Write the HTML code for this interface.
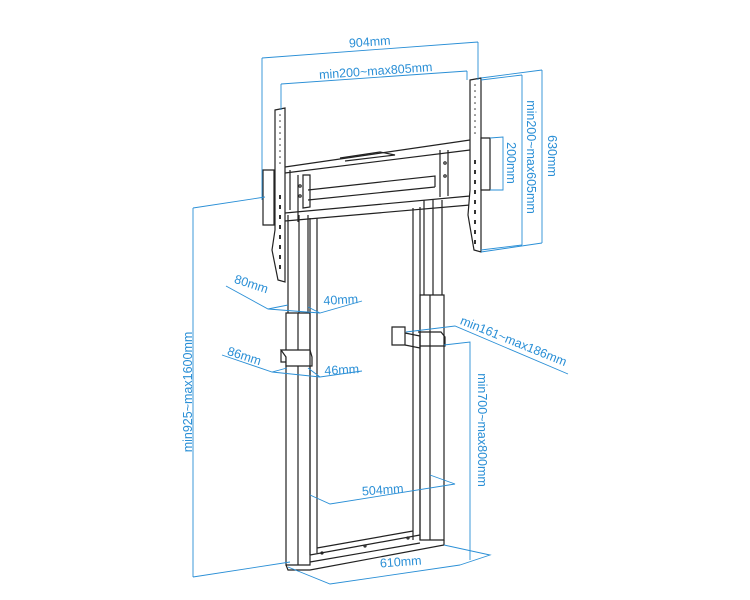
<!DOCTYPE html>
<html><head><meta charset="utf-8"><style>
html,body{margin:0;padding:0;background:#fff;}
svg{display:block}
text{font-family:"Liberation Sans",sans-serif;fill:#2a8fd6;font-size:12.5px;}
.b{stroke:#2a8fd6;stroke-width:0.9;fill:none}
.k{stroke:#222;stroke-width:1.2;fill:none}
.kf{stroke:#222;stroke-width:1.2;fill:#fff}
</style></head><body>
<svg width="750" height="600" viewBox="0 0 750 600">
<g class="k">
<path d="M288 215 L288 313 M299 215 L299 313 M308 215 L308 313"/>
<path d="M286 313 L310 313 L310 565 L286 565 Z" fill="#fff"/>
<path d="M298 313 L298 565"/>
<path d="M281 350 L310 350 L312 357 L312 366 L286 366 L286 357 Z" fill="#fff"/>
<path d="M281 350 L281 362 L286 362"/>
<path d="M424 200 L424 295 M433 200 L433 295 M442 200 L442 295"/>
<path d="M420 295 L444 295 L444 540 L420 540 Z" fill="#fff"/>
<path d="M430 295 L430 540"/>
<path d="M418 332 L441 332 L445 337 L445 346 L420 346"/>
<path d="M392 327 L405 327 L405 345 L392 345 Z" fill="#fff"/>
<path d="M405 333 L420 336 L420 348 L405 345"/>
<path d="M310 218 L310 555 M317 218 L317 553 M413 208 L413 540 M420 207 L420 540"/>
<path d="M286 565 L288 570 L310 570 L444 545 L444 540"/>
<path d="M310 555 L420 535 M317 548 L413 531 M310 562 L420 543"/>
<circle cx="322" cy="553" r="1"/><circle cx="365" cy="546" r="1"/><circle cx="408" cy="538" r="1"/>
<path d="M285 167 L470 140 M285 173 L470 150"/>
<path d="M285 213 L470 196 M285 221 L470 205"/>
<path d="M290 210 L290 170 M298 222 L298 175"/>
<path d="M303 175 L303 208 L310 207 L310 175 Z" fill="#fff"/>
<path d="M440 150 L440 197 M448 150 L448 196"/>
<path d="M308 190 L435 176 L435 187 M308 200 L435 187"/>
<path d="M340 158 L380 152 L395 155 L345 161"/>
<circle cx="300" cy="186" r="1.2"/><circle cx="300" cy="196" r="1.2"/>
<circle cx="445" cy="163" r="1.2"/><circle cx="445" cy="176" r="1.2"/>
</g>
<path class="kf" d="M275 110 L285 108 L285 282 L278 280 L272 250 L275 230 Z"/>
<path class="kf" d="M263 170 L274 170 L274 225 L263 225 Z"/>
<g fill="#333">
<circle cx="280" cy="115" r="0.8"/><circle cx="280" cy="121" r="0.8"/><circle cx="280" cy="127" r="0.8"/><circle cx="280" cy="133" r="0.8"/><circle cx="280" cy="139" r="0.8"/><circle cx="280" cy="145" r="0.8"/><circle cx="280" cy="151" r="0.8"/><circle cx="280" cy="157" r="0.8"/><circle cx="280" cy="163" r="0.8"/>
<rect x="279" y="195" width="2" height="4"/><rect x="279" y="205" width="2" height="4"/><rect x="279" y="215" width="2" height="4"/><rect x="279" y="225" width="2" height="4"/><rect x="279" y="235" width="2" height="4"/><rect x="279" y="245" width="2" height="4"/><rect x="279" y="255" width="2" height="4"/><rect x="279" y="265" width="2" height="4"/>
</g>
<path class="kf" d="M470 80 L481 78 L481 252 L474 250 L468 215 L470 190 Z"/>
<path class="kf" d="M481 138 L490 138 L490 190 L481 190 Z"/>
<g fill="#333">
<circle cx="475" cy="85" r="0.8"/><circle cx="475" cy="91" r="0.8"/><circle cx="475" cy="97" r="0.8"/><circle cx="475" cy="103" r="0.8"/><circle cx="475" cy="109" r="0.8"/><circle cx="475" cy="115" r="0.8"/><circle cx="475" cy="121" r="0.8"/><circle cx="475" cy="127" r="0.8"/><circle cx="475" cy="133" r="0.8"/>
<rect x="474" y="160" width="2" height="4"/><rect x="474" y="170" width="2" height="4"/><rect x="474" y="180" width="2" height="4"/><rect x="474" y="190" width="2" height="4"/><rect x="474" y="200" width="2" height="4"/><rect x="474" y="210" width="2" height="4"/><rect x="474" y="220" width="2" height="4"/><rect x="474" y="230" width="2" height="4"/><rect x="474" y="240" width="2" height="4"/>
</g>
<g class="b">
<path d="M262 58 L478 42 M262 58 L262 200 M478 42 L478 80"/>
<path d="M281 84 L467 71 M281 84 L281 110 M467 71 L467 80"/>
<path d="M481 78 L542 70 M542 70 L542 243 M481 252 L542 243"/>
<path d="M481 80 L522 75 M522 75 L522 245 M481 250 L522 245"/>
<path d="M490 138 L503 137 L503 190 L490 190"/>
<path d="M193 208 L265 197 M193 208 L193 577 M193 577 L290 562"/>
<path d="M226 286 L268 309 L288 305 M268 309 L320 313 M308 307 L320 313 L362 301"/>
<path d="M222 355 L272 372 L287 368 M272 372 L320 377 M308 368 L320 377 L362 371"/>
<path d="M406 332 L455 326 L568 374 M444 345 L470 342 L470 560"/>
<path d="M310 495 L330 504 L455 484 L430 475"/>
<path d="M288 567 L330 584 L460 565 M444 545 L490 555 L460 565"/>
</g>
<g>
<text x="370" y="46" transform="rotate(-4 370 46)" text-anchor="middle">904mm</text>
<text x="376" y="75" transform="rotate(-4 376 75)" text-anchor="middle">min200~max805mm</text>
<text x="548" y="156" transform="rotate(90 548 156)" text-anchor="middle">630mm</text>
<text x="527" y="157" transform="rotate(90 527 157)" text-anchor="middle">min200~max605mm</text>
<text x="507" y="163" transform="rotate(90 507 163)" text-anchor="middle">200mm</text>
<text x="192" y="392" transform="rotate(-90 192 392)" text-anchor="middle">min925~max1600mm</text>
<text x="250" y="288" transform="rotate(18 250 288)" text-anchor="middle">80mm</text>
<text x="341" y="304" transform="rotate(-3 341 304)" text-anchor="middle">40mm</text>
<text x="243" y="360" transform="rotate(18 243 360)" text-anchor="middle">86mm</text>
<text x="342" y="374" transform="rotate(-3 342 374)" text-anchor="middle">46mm</text>
<text x="512" y="345" transform="rotate(22 512 345)" text-anchor="middle">min161~max186mm</text>
<text x="478" y="430" transform="rotate(90 478 430)" text-anchor="middle">min700~max800mm</text>
<text x="383" y="494" transform="rotate(-4 383 494)" text-anchor="middle">504mm</text>
<text x="401" y="566" transform="rotate(-4 401 566)" text-anchor="middle">610mm</text>
</g>
</svg>
</body></html>
